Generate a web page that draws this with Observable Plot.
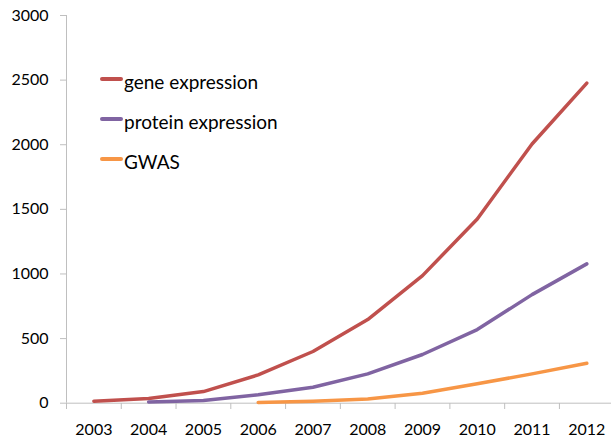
<!DOCTYPE html>
<html><head><meta charset="utf-8">
<script src="https://cdn.jsdelivr.net/npm/d3@7"></script>
<script src="https://cdn.jsdelivr.net/npm/@observablehq/plot@0.6"></script>
<style>
html,body{margin:0;padding:0;background:#fff;overflow:hidden}
#wrap{position:relative;width:611px;height:438px}
.lg-line{position:absolute;left:100px;width:23px;height:3.5px;border-radius:2px}
.lg-text{position:absolute;left:124px;font-family:Lato,sans-serif;font-size:19px;line-height:24px;color:#000;white-space:nowrap}
</style></head><body><div id="wrap"></div>
<script>
const years = [2003, 2004, 2005, 2006, 2007, 2008, 2009, 2010, 2011, 2012];
const geneExpression = [16, 36, 90, 219, 400, 647, 987, 1426, 2006, 2477];
const proteinExpression = [null, 10, 20, 65, 124, 227, 377, 570, 840, 1078];
const gwas = [null, null, null, 5, 15, 33, 77, 150, 227, 309];
const seriesNames = ["gene expression", "protein expression", "GWAS"];
const seriesColors = ["#C0504D", "#8064A2", "#F79646"];
const yTicks = [0, 500, 1000, 1500, 2000, 2500, 3000];

const seriesValues = [geneExpression, proteinExpression, gwas];
const data = [];
seriesValues.forEach((vals, i) => {
  vals.forEach((v, j) => { if (v != null) data.push({series: seriesNames[i], year: years[j], value: v}); });
});
const boundaries = [years[0] - 0.5, ...years.map(y => y + 0.5)];
const x0 = boundaries[0], x1 = boundaries[boundaries.length - 1];
const axisGray = "#bfbfbf";

const chart = Plot.plot({
  width: 611,
  height: 438,
  marginLeft: 66,
  marginRight: -3,
  marginTop: 15,
  marginBottom: 35,
  style: {fontFamily: "Lato, sans-serif", fontSize: "16px", color: "#000", background: "#fff"},
  x: {type: "linear", domain: [x0, x1], range: [66, 613.7]},
  y: {domain: [0, 3000], range: [402.7, 15]},
  color: {domain: seriesNames, range: seriesColors},
  marks: [
    Plot.axisY(yTicks, {tickSize: 6, tickPadding: 12, stroke: axisGray, fill: "#000", label: null, tickFormat: d => String(d)}),
    Plot.axisX(boundaries, {tickSize: 6, tickFormat: () => "", stroke: axisGray, label: null}),
    Plot.axisX(years, {tickSize: 0, tickPadding: 20, tickFormat: d => String(d), fill: "#000", label: null}),
    Plot.ruleX([x0], {y1: 0, y2: 3000, stroke: axisGray}),
    Plot.ruleY([0], {x1: x0, x2: x1, stroke: axisGray}),
    Plot.line(data, {x: "year", y: "value", z: "series", stroke: "series", strokeWidth: 3.5, strokeLinecap: "round", strokeLinejoin: "round"})
  ]
});
const wrap = document.getElementById("wrap");
wrap.appendChild(chart);

const legendY = [79, 119, 159];
seriesNames.forEach((name, i) => {
  const ln = document.createElement("div");
  ln.className = "lg-line";
  ln.style.top = (legendY[i] - 1.75) + "px";
  ln.style.background = seriesColors[i];
  wrap.appendChild(ln);
  const tx = document.createElement("div");
  tx.className = "lg-text";
  tx.style.top = (legendY[i] - 9.35) + "px";
  tx.textContent = name;
  wrap.appendChild(tx);
});
</script></body></html>
